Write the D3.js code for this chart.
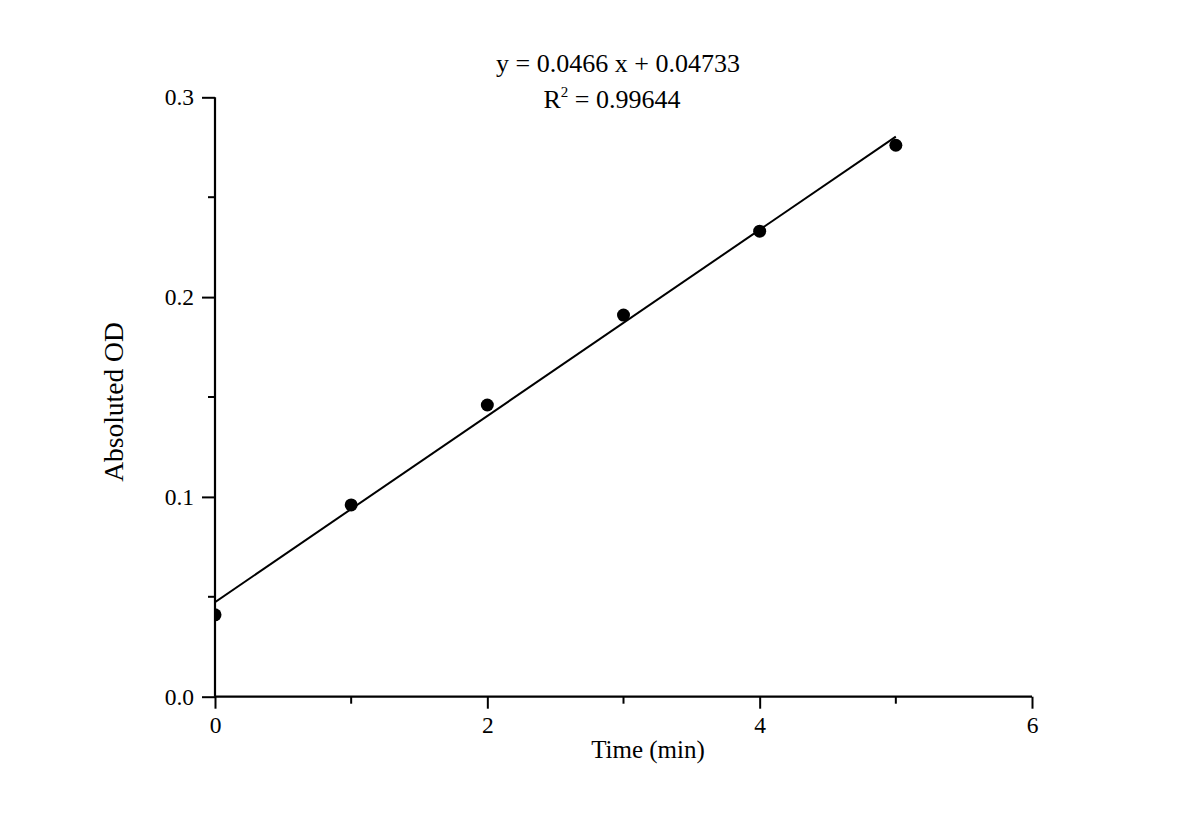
<!DOCTYPE html>
<html><head><meta charset="utf-8">
<script src="https://cdn.jsdelivr.net/npm/d3@7"></script>
<style>body{margin:0;background:#fff}svg{display:block}text{font-family:"Liberation Serif","Times New Roman",serif;fill:#000}</style>
</head><body>
<script>
const timeMin = [0, 1, 2, 3, 4, 5];
const absOD = [0.041, 0.096, 0.146, 0.191, 0.233, 0.276];
const fitSlope = 0.0466;
const fitIntercept = 0.04733;
const fitRange = [0, 5];
const xMajorTicks = [0, 2, 4, 6];
const xMinorTicks = [1, 3, 5];
const yMajorTicks = [0.0, 0.1, 0.2, 0.3];
const yMinorTicks = [0.05, 0.15, 0.25];
const eqText = "y = 0.0466 x + 0.04733";
const r2Value = "0.99644";

const W = 1200, H = 835;
const svg = d3.select("body").append("svg").attr("width", W).attr("height", H);
const x = d3.scaleLinear().domain([0, 6]).range([215, 1032]);
const y = d3.scaleLinear().domain([0, 0.3]).range([696.7, 97.3]);

svg.append("clipPath").attr("id", "plot").append("rect")
  .attr("x", x(0)).attr("y", y(0.3) - 20).attr("width", x(6) - x(0) + 20).attr("height", y(0) - y(0.3) + 20);

const g = svg.append("g").attr("clip-path", "url(#plot)");
g.append("line")
  .attr("x1", x(fitRange[0])).attr("y1", y(fitSlope * fitRange[0] + fitIntercept))
  .attr("x2", x(fitRange[1])).attr("y2", y(fitSlope * fitRange[1] + fitIntercept))
  .attr("stroke", "#000").attr("stroke-width", 2);
g.selectAll("circle").data(timeMin).join("circle")
  .attr("cx", d => x(d)).attr("cy", (d, i) => y(absOD[i])).attr("r", 6.5).attr("fill", "#000");

// x axis
const xAxis = svg.append("g").attr("transform", `translate(0,${y(0)})`)
  .call(d3.axisBottom(x).tickValues(xMajorTicks).tickSize(12).tickPadding(8).tickFormat(d3.format("d")));
xAxis.append("g").selectAll("line").data(xMinorTicks).join("line")
  .attr("x1", d => x(d)).attr("x2", d => x(d)).attr("y1", 0).attr("y2", 7)
  .attr("stroke", "#000").attr("stroke-width", 2);
// y axis
const yAxis = svg.append("g").attr("transform", `translate(${x(0)},0)`)
  .call(d3.axisLeft(y).tickValues(yMajorTicks).tickSize(13).tickPadding(8).tickFormat(d3.format(".1f")));
yAxis.append("g").selectAll("line").data(yMinorTicks).join("line")
  .attr("x1", 0).attr("x2", -7).attr("y1", d => y(d)).attr("y2", d => y(d))
  .attr("stroke", "#000").attr("stroke-width", 2);

[xAxis, yAxis].forEach(a => {
  a.select(".domain").attr("stroke", "#000").attr("stroke-width", 2.2);
  a.selectAll(".tick line").attr("stroke", "#000").attr("stroke-width", 2);
  a.selectAll(".tick text").style("font-family", '"Liberation Serif", serif').style("font-size", "23.5px").attr("fill", "#000");
});
xAxis.select(".domain").attr("d", `M${x(0)},0H${x(6)}`);
yAxis.select(".domain").attr("d", `M0,${y(0.3)}V${y(0)}`);

svg.append("text").attr("x", 648).attr("y", 758).attr("text-anchor", "middle")
  .style("font-size", "25px").text("Time (min)");
svg.append("text").attr("transform", "translate(123,402) rotate(-90)").attr("text-anchor", "middle")
  .style("font-size", "27.5px").text("Absoluted OD");

svg.append("text").attr("x", 618).attr("y", 72).attr("text-anchor", "middle")
  .style("font-size", "26px").text(eqText);
const r2 = svg.append("text").attr("x", 612).attr("y", 108).attr("text-anchor", "middle").style("font-size", "26px");
r2.append("tspan").text("R");
r2.append("tspan").attr("dy", -11).style("font-size", "15px").text("2");
r2.append("tspan").attr("dy", 11).text(" = " + r2Value);
</script>
</body></html>
